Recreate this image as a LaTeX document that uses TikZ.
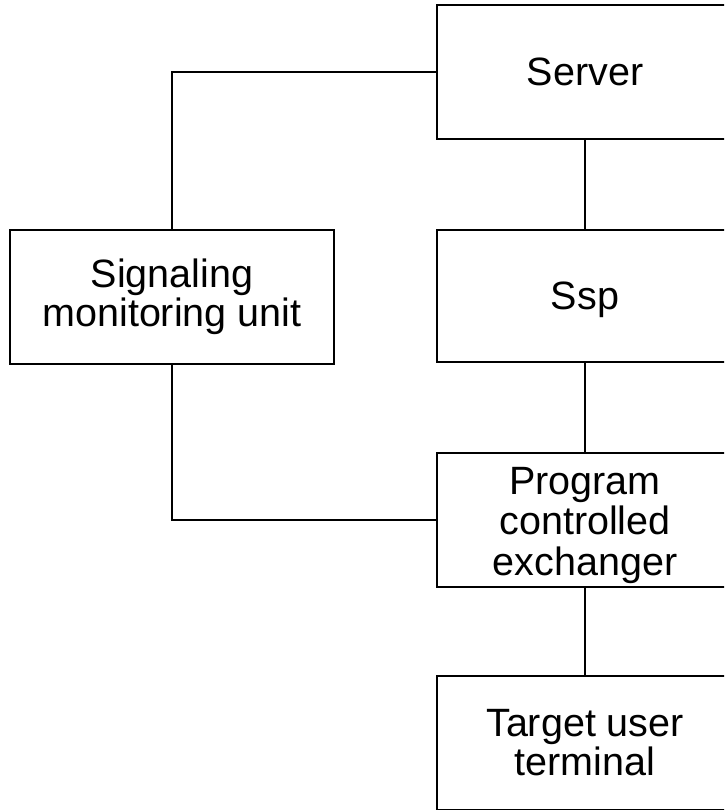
\documentclass[tikz,border=0pt]{standalone}
\usepackage{fontspec}
\setmainfont{Liberation Sans}
\begin{document}
\begin{tikzpicture}[x=1pt,y=-1pt,
  box/.style={draw=black, line width=2pt, minimum width=296pt, minimum height=134pt, inner sep=0pt, align=center, font=\fontsize{39.5}{39}\selectfont},
  link/.style={draw=black, line width=2pt}]
\useasboundingbox (0,0) rectangle (724,810);
\clip (0,0) rectangle (724,810);
\fill[white] (0,0) rectangle (724,810);
\node[box] (server) at (585,72) {Server};
\node[box, minimum width=324pt] (sig) at (172,297) {Signaling\\monitoring unit};
\node[box, minimum height=132pt] (ssp) at (585,296) {\raisebox{-4pt}[\height][\depth]{Ssp}};
\node[box] (pce) at (585,520) {\raisebox{-7pt}[\height][\depth]{\begin{tabular}{@{}c@{}}Program\\controlled\\exchanger\end{tabular}}};
\node[box] (target) at (585,743) {Target user\\terminal};
\draw[link] (server.west) -| (sig.north);
\draw[link] (sig.south) |- (pce.west);
\draw[link] (server.south) -- (ssp.north);
\draw[link] (ssp.south) -- (pce.north);
\draw[link] (pce.south) -- (target.north);
\end{tikzpicture}
\end{document}
